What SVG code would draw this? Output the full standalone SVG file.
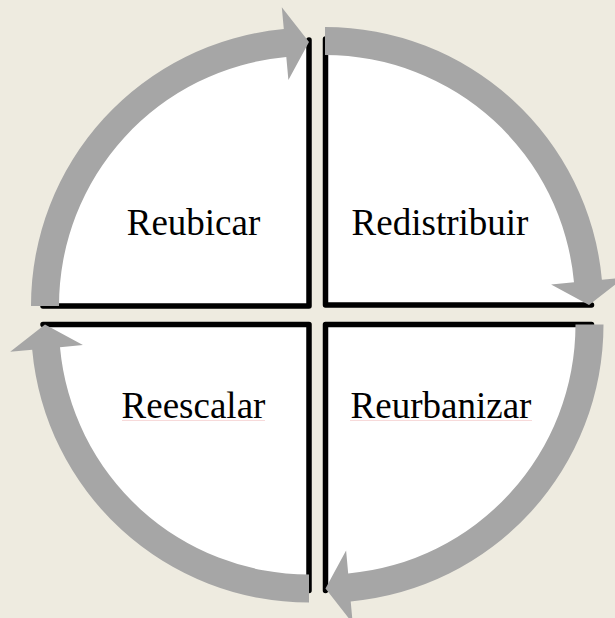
<svg xmlns="http://www.w3.org/2000/svg" width="615" height="618" viewBox="0 0 615 618">
<style>
.quad{fill:#FFFFFF;stroke:none}
.edge{fill:none;stroke:#000000;stroke-width:5.5;stroke-linejoin:round;stroke-linecap:round}
.arrow{fill:#A6A6A6;stroke:none}
.lbl{font-family:"Liberation Serif","Times New Roman",serif;font-size:37px;fill:#000000;text-anchor:middle}
.spell{stroke:#F7DADA;stroke-width:1;fill:none}
</style>
<rect x="0" y="0" width="615" height="618" fill="#EEEBE0"/>
<g id="node-reubicar">
<path class="quad" d="M309,306 L309,40 A266,266 0 0 0 43,306 Z"/>
<path class="edge" d="M309,40 L309,306 L43,306"/>
<text class="lbl" x="193.5" y="235">Reubicar</text>
</g>
<g id="node-redistribuir">
<path class="quad" d="M325.5,305 L325.5,39 A266,266 0 0 1 591.5,305 Z"/>
<path class="edge" d="M325.5,39 L325.5,305 L591.5,305"/>
<text class="lbl" x="440" y="235">Redistribuir</text>
</g>
<g id="node-reurbanizar">
<path class="quad" d="M325.5,324.5 L591.5,324.5 A266,266 0 0 1 325.5,590.5 Z"/>
<path class="edge" d="M591.5,324.5 L325.5,324.5 L325.5,590.5"/>
<text class="lbl" x="441" y="418">Reurbanizar</text>
<path class="spell" d="M350,420.5 L532,420.5"/>
</g>
<g id="node-reescalar">
<path class="quad" d="M309,324.5 L309,590.5 A266,266 0 0 1 43,324.5 Z"/>
<path class="edge" d="M309,590.5 L309,324.5 L43,324.5"/>
<text class="lbl" x="193.5" y="418">Reescalar</text>
<path class="spell" d="M122,420.5 L265,420.5"/>
</g>
<g id="connectors">
<path class="arrow" d="M31,306 A278,278 0 0 1 283.8,29.1 L281.8,7.2 L309,42 L288.4,79.9 L286.3,57 A250,250 0 0 0 59,306 Z"/>
<path class="arrow" d="M325,27 A278,278 0 0 1 601.9,279.8 L623.8,277.8 L589,305 L551.1,284.4 L574,282.3 A250,250 0 0 0 325,55 Z"/>
<path class="arrow" d="M603.5,324.5 A278,278 0 0 1 350.7,601.4 L352.7,623.3 L325.5,588.5 L346.1,550.6 L348.2,573.5 A250,250 0 0 0 575.5,324.5 Z"/>
<path class="arrow" d="M309,602.5 A278,278 0 0 1 32.2,349.7 L10.2,351.7 L45,324.5 L82.9,345.1 L60,347.2 A250,250 0 0 0 309,574.5 Z"/>
</g>
</svg>
